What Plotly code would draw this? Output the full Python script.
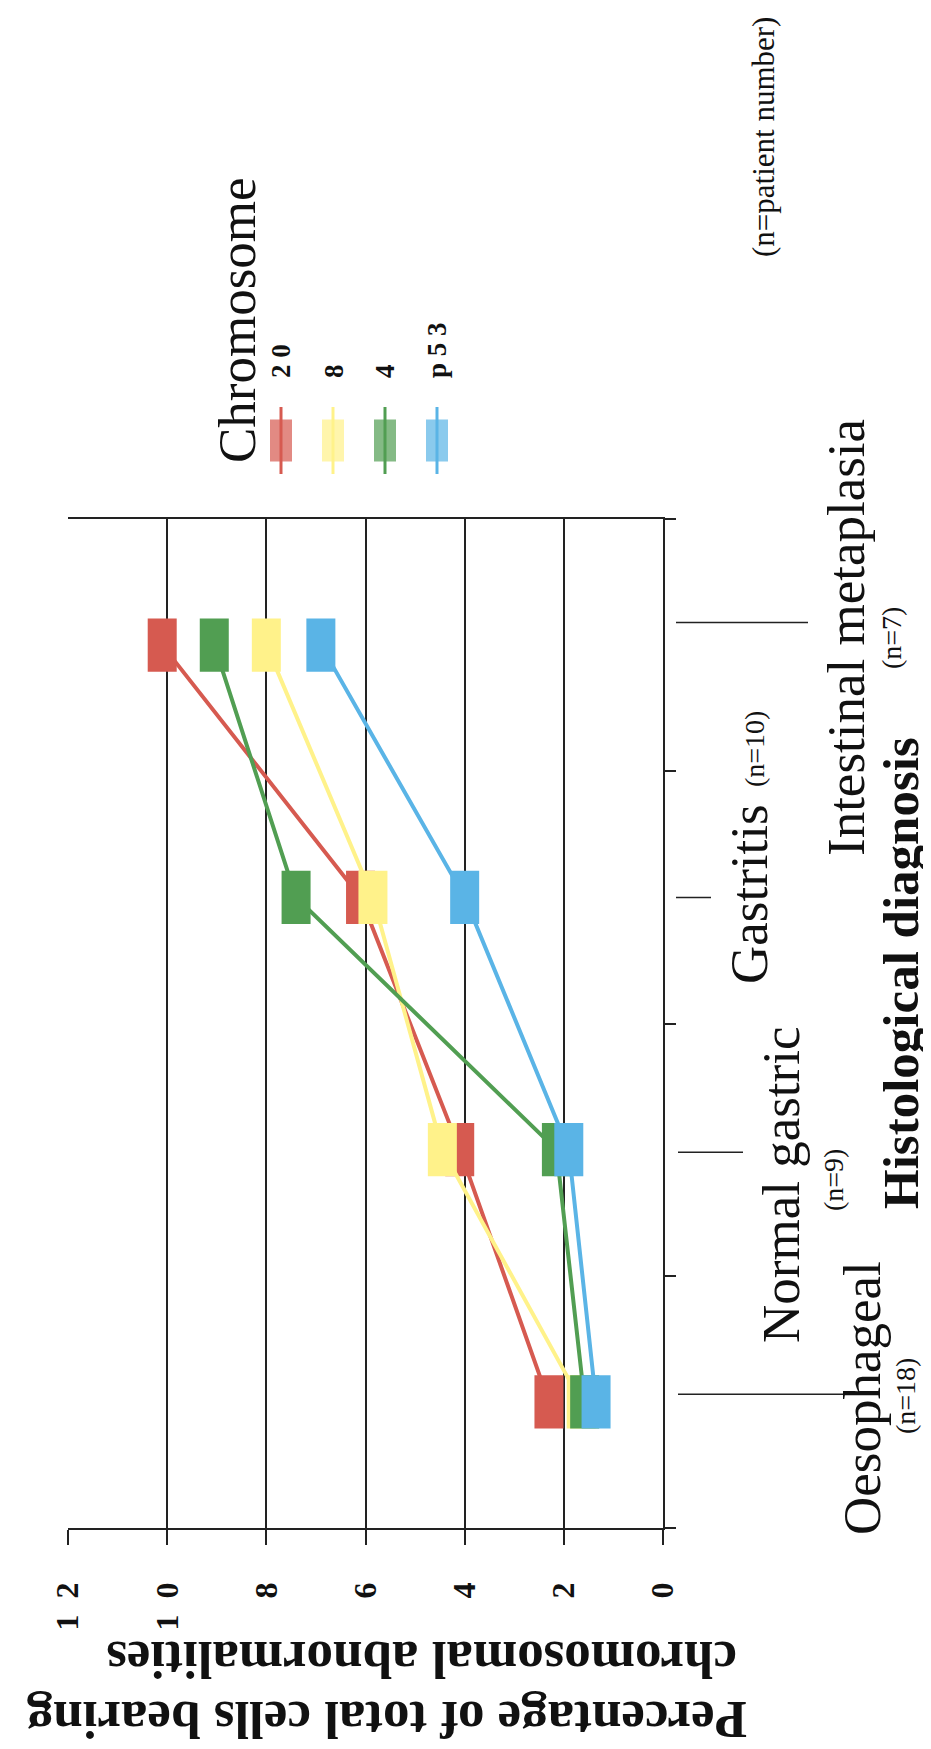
import plotly.graph_objects as go

# ---- data ----
categories = ["Oesophageal", "Normal gastric", "Gastritis", "Intestinal metaplasia"]
series_names = ["2 0", "8", "4", "p 5 3"]
chr20 = [2.3, 4.1, 6.1, 10.1]
chr8 = [1.65, 4.45, 5.85, 8.0]
chr4 = [1.58, 2.15, 7.4, 9.05]
p53 = [1.35, 1.9, 4.0, 6.9]
value_ticks = [0, 2, 4, 6, 8, 10, 12]
value_tick_text = ["0", "2", "4", "6", "8", "1\u00a0\u00a00", "1\u00a0\u00a02"]
patient_n = ["(n=18)", "(n=9)", "(n=10)", "(n=7)"]

series_values = [chr20, chr8, chr4, p53]
colors = ["#D65A50", "#FFF28A", "#519E52", "#5AB4E6"]

W, H = 931, 1749
def px(x):
    return x / W
def py(y):
    return 1 - y / H

SERIF = "Liberation Serif, Times New Roman, serif"

fig = go.Figure()

for name, vals, col in zip(series_names, series_values, colors):
    fig.add_trace(go.Scatter(
        x=vals, y=categories, mode="lines+markers", name=name,
        line=dict(color=col, width=4),
        marker=dict(symbol="line-ns", size=38, color=col,
                    line=dict(color=col, width=29)),
        showlegend=False, xaxis="x", yaxis="y",
    ))

# rotated legend drawn on an auxiliary axis
for i, (name, col) in enumerate(zip(series_names, colors)):
    fig.add_trace(go.Scatter(
        x=[i, i, i], y=[0, 1, 2], mode="lines+markers",
        line=dict(color=col, width=3),
        marker=dict(symbol="line-ns", size=[0, 30, 0], color=col,
                    line=dict(color=col, width=22)),
        showlegend=False, xaxis="x2", yaxis="y2", hoverinfo="skip",
    ))

fig.update_layout(
    width=W, height=H,
    margin=dict(l=0, r=0, t=0, b=0, autoexpand=False),
    paper_bgcolor="white", plot_bgcolor="white",
    font=dict(family=SERIF, color="#111"),
    xaxis=dict(
        domain=[px(60), px(655)], range=[12, 0], autorange=False,
        tickvals=value_ticks, ticktext=value_tick_text,
        tickangle=-90, ticks="outside", ticklen=15, tickwidth=1.5, tickcolor="#222",
        tickfont=dict(family=SERIF, size=32, weight="bold", color="#111"),
        ticklabelstandoff=25, automargin=False,
        showgrid=True, gridcolor="#222", gridwidth=1.5,
        showline=True, linecolor="#222", linewidth=1.5, mirror=True,
        zeroline=False, anchor="y",
    ),
    yaxis=dict(
        domain=[py(1520), py(511)], type="category",
        categoryorder="array", categoryarray=categories,
        range=[-0.5, 3.5], autorange=False, automargin=False,
        side="right", tickson="boundaries", ticks="outside", ticklen=11,
        tickwidth=1.5, tickcolor="#222",
        showticklabels=False, showgrid=False,
        showline=True, linecolor="#222", linewidth=1.5,
        zeroline=False, anchor="x",
    ),
    xaxis2=dict(domain=[px(247), px(455)], range=[-0.5, 3.5], visible=False,
                anchor="y2", fixedrange=True, automargin=False),
    yaxis2=dict(domain=[py(466), py(399)], range=[0, 2], visible=False,
                anchor="x2", fixedrange=True, automargin=False),
)

# leader lines beside category labels
leaders = [(0.03, 670, 837), (0.99, 670, 735), (2.0, 668, 703), (3.09, 668, 800)]
for yy, x0, x1 in leaders:
    fig.add_shape(type="line", xref="paper", yref="y", x0=px(x0), x1=px(x1),
                  y0=yy, y1=yy, line=dict(color="#222", width=1.5))

ann = []
def add(text, x, y, size, angle=-90, bold=False, color="#111"):
    ann.append(dict(text=text, x=px(x), y=py(y), xref="paper", yref="paper",
                    showarrow=False, textangle=angle, xanchor="center", yanchor="middle",
                    font=dict(family=SERIF, size=size, color=color,
                              weight="bold" if bold else "normal")))

# category labels
add(categories[0], 854, 1390, 53)
add(patient_n[0], 897, 1388, 28)
add(categories[1], 773, 1177, 53)
add(patient_n[1], 825, 1172, 28)
add(categories[2], 741, 886, 53)
add(patient_n[2], 747, 741, 28)
add(categories[3], 838, 630, 53)
add(patient_n[3], 883, 630, 28)
add("Histological diagnosis", 893, 965, 51, bold=True)
add("(n=patient number)", 756, 129, 31)

# value axis title (upside down)
add("Percentage of total cells bearing", 379, 1712, 53, angle=180, bold=True)
add("chromosomal abnormalities", 414, 1652, 53, angle=180, bold=True)

# legend
add("Chromosome", 229, 312, 53)
legend_x = [273, 326, 377, 429]
for name, lx in zip(series_names, legend_x):
    ann.append(dict(text=name, x=px(lx), y=py(372), xref="paper", yref="paper",
                    showarrow=False, textangle=-90, xanchor="center", yanchor="bottom",
                    font=dict(family=SERIF, size=27, color="#111", weight="bold")))

fig.update_layout(annotations=ann)

fig.write_html("out.html")
